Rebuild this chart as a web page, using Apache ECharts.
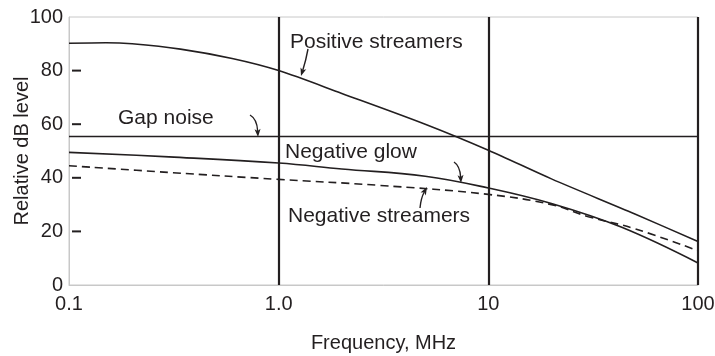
<!DOCTYPE html>
<html>
<head>
<meta charset="utf-8">
<script src="https://cdn.jsdelivr.net/npm/echarts@6/dist/echarts.min.js"></script>
<style>html,body{margin:0;padding:0;background:#fff}#c{width:715px;height:356px}</style>
</head>
<body>
<div id="c"></div>
<script>
// Data (frequency in MHz, relative dB level)
var positiveStreamers = [[0.1,90.2],[0.15,90.4],[0.2,90],[0.34,88],[0.6,84.5],[1,80],[2,71.5],[5,60],[10,50.3],[20,39.6],[50,26.5],[100,16.2]];
var negativeGlow = [[0.1,49.5],[0.3,47.8],[1,45.5],[2,43.3],[5,40.6],[10,36.2],[20,30.4],[43,21.6],[100,8.2]];
var negativeStreamers = [[0.1,44.5],[0.3,42],[1,39.4],[3,37.2],[10,33.8],[20,30],[30,25.5],[50,21],[100,12.8]];
var gapNoiseLevel = 55.5;
var gridFreqs = [1, 10, 100];
var xTickLabels = {0.1:'0.1', 1:'1.0', 10:'10', 100:'100'};
var yTicks = [0,20,40,60,80,100];
var yTickMarks = [20,40,60,80];

var INK = '#231f20';
var FONT = 'Liberation Sans, Arial, sans-serif';
var chart = echarts.init(document.getElementById('c'), null, {renderer:'canvas'});

function arrow(x1,y1,cx,cy,x2,y2){
  var dx = x2-cx, dy = y2-cy, L = Math.sqrt(dx*dx+dy*dy);
  var ux = dx/L, uy = dy/L, hl = 8, hw = 3;
  var bx = x2-ux*hl, by = y2-uy*hl;
  return [
    {type:'bezierCurve', shape:{x1:x1,y1:y1,cpx1:cx,cpy1:cy,x2:bx+ux*2,y2:by+uy*2}, style:{stroke:INK,lineWidth:1.4,fill:null}, z:50},
    {type:'polygon', shape:{points:[[x2,y2],[bx-uy*hw,by+ux*hw],[bx+ux*2,by+uy*2],[bx+uy*hw,by-ux*hw]]}, style:{fill:INK}, z:50}
  ];
}
function label(txt,x,y){
  return {type:'text', x:x, y:y, style:{text:txt, fill:INK, font:'21px '+FONT, textVerticalAlign:'middle'}, z:50};
}

var graphics = [].concat(
  [label('Positive streamers',290,42), label('Gap noise',118,118), label('Negative glow',285,152), label('Negative streamers',288,216)],
  arrow(308,49,306,60,301,76),
  arrow(250,115,257,119,258,137),
  arrow(454,162,460,166,461,183),
  arrow(420,208,421,198,427,187)
);

var markData = gridFreqs.map(function(f){ return {xAxis:f, lineStyle:{color:INK,width:2.2,type:'solid'}}; });
markData.push({yAxis:gapNoiseLevel, lineStyle:{color:INK,width:1.4,type:'solid'}});

chart.setOption({
  animation:false,
  backgroundColor:'#fff',
  grid:{left:69,right:17,top:17,bottom:71,containLabel:false,outerBoundsMode:'none',show:true,borderColor:'#c8c8c8',borderWidth:1,backgroundColor:'transparent'},
  xAxis:{
    type:'log', logBase:10, min:0.1, max:100,
    name:'Frequency, MHz', nameLocation:'middle', nameGap:48, nameMoveOverlap:false,
    nameTextStyle:{fontSize:20,color:INK,fontFamily:FONT},
    axisLine:{show:true,lineStyle:{color:'#c8c8c8',width:1}},
    axisTick:{show:false}, splitLine:{show:false}, minorTick:{show:false},
    axisLabel:{fontSize:20,color:INK,fontFamily:FONT,margin:9,
      formatter:function(v){ var k = +(+v).toPrecision(3); return xTickLabels[k] !== undefined ? xTickLabels[k] : ''; }}
  },
  yAxis:{
    type:'value', min:yTicks[0], max:yTicks[yTicks.length-1], interval:20,
    name:'Relative dB level', nameLocation:'middle', nameGap:37, nameRotate:90, nameMoveOverlap:false,
    nameTextStyle:{fontSize:20,color:INK,fontFamily:FONT},
    axisLine:{show:true,lineStyle:{color:'#c8c8c8',width:1}},
    axisTick:{show:false},
    splitLine:{show:false},
    axisLabel:{fontSize:20,color:INK,fontFamily:FONT,margin:6}
  },
  series:[
    {type:'line', data:positiveStreamers, smooth:0.3, symbol:'none', lineStyle:{color:INK,width:1.6}, z:10},
    {type:'line', data:negativeGlow, smooth:0.4, symbol:'none', lineStyle:{color:INK,width:1.6}, z:10},
    {type:'line', data:negativeStreamers, smooth:0.4, symbol:'none', lineStyle:{color:INK,width:1.6,type:[8,5]}, z:10},
    {type:'line', data:[], symbol:'none', markLine:{silent:true, symbol:['none','none'], label:{show:false}, data:markData}, z:5}
  ],
  graphic: graphics
});

// Short inside tick marks at 20..80
var tickG = [];
yTickMarks.forEach(function(v){
  var p = chart.convertToPixel({gridIndex:0}, [0.1, v]);
  tickG.push({type:'line', shape:{x1:p[0]+3,y1:p[1],x2:p[0]+12,y2:p[1]}, style:{stroke:INK,lineWidth:2}, z:40});
});
chart.setOption({graphic: graphics.concat(tickG)});
</script>
</body>
</html>
